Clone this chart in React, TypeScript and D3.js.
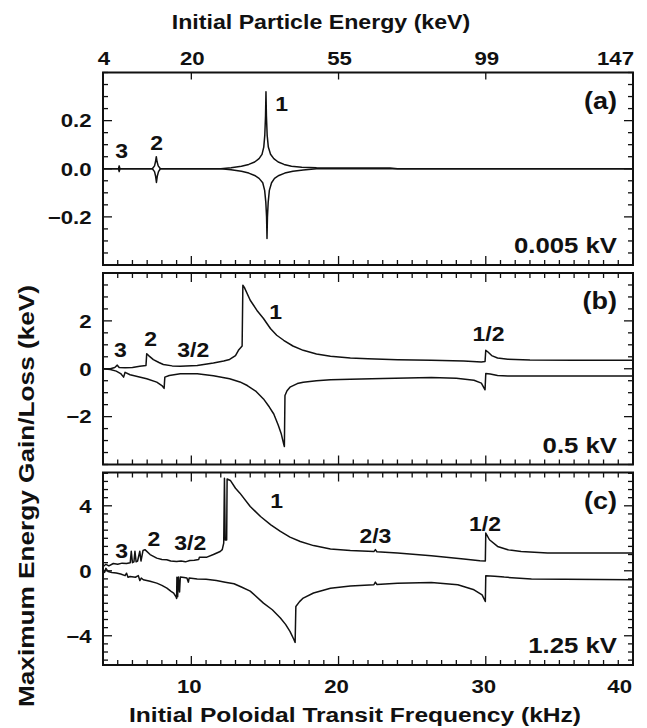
import React from "react";
import * as d3 from "d3";

type P = [number, number];

// ---------- data (frequency kHz, energy gain/loss keV) ----------
const aUpper: P[] = [
  [4, 0], [5.05, 0], [5.1, 0.012], [5.15, 0], [7.35, 0], [7.5, 0.012], [7.57, 0.03], [7.62, 0.05],
  [7.67, 0.03], [7.75, 0.012], [7.9, 0], [12.0, 0], [12.7, 0.004], [13.4, 0.01], [13.9, 0.018],
  [14.3, 0.028], [14.6, 0.042], [14.8, 0.06], [14.92, 0.09], [14.99, 0.14], [15.04, 0.22],
  [15.07, 0.32], [15.1, 0.22], [15.15, 0.14], [15.23, 0.09], [15.38, 0.06], [15.6, 0.042],
  [15.9, 0.028], [16.3, 0.018], [16.8, 0.01], [17.5, 0.006], [18.5, 0.004], [23.5, 0.003], [24, 0], [40, 0],
];
const aLower: P[] = [
  [4, 0], [5.05, 0], [5.1, -0.012], [5.15, 0], [7.35, 0], [7.5, -0.012], [7.57, -0.03], [7.63, -0.057],
  [7.69, -0.03], [7.77, -0.012], [7.9, 0], [12.0, 0], [12.7, -0.004], [13.4, -0.01], [13.9, -0.018],
  [14.3, -0.028], [14.6, -0.04], [14.85, -0.058], [14.98, -0.09], [15.06, -0.14], [15.11, -0.2],
  [15.14, -0.29], [15.17, -0.2], [15.22, -0.14], [15.3, -0.09], [15.45, -0.058], [15.65, -0.04],
  [15.95, -0.028], [16.35, -0.018], [16.9, -0.01], [17.6, -0.005], [18.5, 0], [40, 0],
];
const bUpper: P[] = [
  [4, 0], [4.5, 0.0], [4.8, 0.05], [4.97, 0.15], [5.1, 0.05], [5.5, 0.04], [6.0, 0.05], [6.5, 0.1],
  [6.92, 0.14], [6.97, 0.63], [7.1, 0.55], [7.42, 0.38], [7.8, 0.26], [8.1, 0.18], [8.7, 0.12],
  [9.25, 0.1], [10.4, 0.14], [11.5, 0.24], [12.2, 0.32], [12.6, 0.39], [13.0, 0.55], [13.2, 0.77],
  [13.45, 0.95], [13.5, 3.49], [13.6, 3.4], [14.0, 2.86], [14.5, 2.4], [14.9, 2.1], [15.37, 1.68],
  [15.8, 1.4], [16.27, 1.19], [16.9, 0.95], [17.6, 0.77], [18.5, 0.62], [19.45, 0.52], [20.8, 0.45],
  [22, 0.42], [24, 0.38], [26.3, 0.35], [28.5, 0.32], [29.7, 0.28], [29.95, 0.3], [30.0, 0.77],
  [30.15, 0.7], [30.4, 0.55], [30.8, 0.45], [31.5, 0.4], [33, 0.37], [36, 0.36], [40, 0.36],
];
const bLower: P[] = [
  [4, 0], [4.5, -0.03], [4.9, -0.1], [5.2, -0.2], [5.4, -0.35], [5.5, -0.15], [5.84, -0.25],
  [6.4, -0.33], [6.97, -0.42], [7.65, -0.56], [8.0, -0.7], [8.15, -0.82], [8.2, -0.35], [8.5, -0.28],
  [9.25, -0.21], [10.4, -0.21], [11.5, -0.29], [12.6, -0.42], [13.3, -0.55], [13.8, -0.7],
  [14.4, -0.95], [14.9, -1.26], [15.3, -1.6], [15.6, -1.89], [15.9, -2.35], [16.1, -2.7],
  [16.27, -3.14], [16.32, -3.25], [16.36, -1.12], [16.5, -0.92], [16.7, -0.77], [17.2, -0.62],
  [17.6, -0.56], [18.5, -0.5], [19.45, -0.46], [20.8, -0.44], [23, -0.41], [26.3, -0.37],
  [28, -0.4], [29.2, -0.48], [29.7, -0.6], [29.95, -0.88], [30.0, -0.2], [30.3, -0.22],
  [30.8, -0.28], [31.5, -0.3], [40, -0.3],
];
const cUpper: P[] = [
  [4, 0.25], [4.2, 0.4], [4.4, 0.3], [4.7, 0.45], [5.0, 0.4], [5.3, 0.47], [5.6, 0.45], [5.85, 0.5],
  [5.92, 1.2], [6.0, 0.5], [6.1, 0.55], [6.17, 1.2], [6.25, 0.55], [6.35, 0.6], [6.5, 1.2],
  [6.58, 0.6], [6.72, 1.25], [6.85, 1.3], [7.2, 1.0], [7.65, 0.78], [8.0, 0.7], [8.33, 0.68],
  [8.6, 0.6], [9.0, 0.57], [9.3, 0.6], [9.6, 0.55], [9.9, 0.63], [10.2, 0.65], [10.5, 0.7],
  [10.55, 0.84], [11.06, 0.84], [11.5, 1.0], [11.96, 1.19], [12.1, 1.3], [12.2, 1.7], [12.25, 5.7],
  [12.3, 1.9], [12.4, 1.9], [12.43, 5.65], [12.65, 5.56], [13.0, 5.08], [13.3, 4.78], [14.0, 3.96],
  [14.7, 3.34], [15.4, 2.83], [16.05, 2.42], [16.7, 2.07], [17.4, 1.8], [18.3, 1.55], [19.45, 1.34],
  [20.8, 1.25], [22.4, 1.18], [22.5, 1.3], [22.6, 1.17], [24.0, 1.09], [26.3, 0.92], [28.5, 0.72],
  [29.6, 0.62], [29.97, 0.6], [30.0, 2.32], [30.25, 1.91], [30.8, 1.5], [31.5, 1.29], [32.4, 1.19],
  [34.2, 1.1], [40, 1.09],
];
const cLower: P[] = [
  [4, 0.1], [4.1, -0.1], [4.2, 0.15], [4.35, -0.05], [4.6, -0.1], [4.9, -0.14], [5.2, -0.2],
  [5.5, -0.3], [5.6, -0.15], [5.7, -0.4], [5.84, -0.35], [6.2, -0.4], [6.4, -0.3], [6.5, -0.6],
  [6.6, -0.45], [6.74, -0.55], [7.2, -0.65], [7.65, -0.76], [8.0, -0.9], [8.34, -1.07], [8.6, -1.25],
  [8.8, -1.37], [8.97, -1.62], [9.0, -1.7], [9.02, -0.4], [9.07, -1.6], [9.12, -0.38], [9.2, -1.3],
  [9.25, -0.39], [9.5, -0.42], [9.7, -0.45], [9.8, -0.7], [9.85, -0.45], [10.4, -0.5], [11.0, -0.52],
  [11.7, -0.6], [12.3, -0.7], [12.9, -0.8], [13.4, -1.0], [14.0, -1.25], [14.9, -1.99], [15.5, -2.4],
  [16.05, -2.91], [16.4, -3.3], [16.7, -3.73], [16.95, -4.2], [17.05, -4.41], [17.1, -2.2],
  [17.35, -1.9], [17.6, -1.68], [18.3, -1.37], [19.45, -1.07], [20.8, -0.93], [22.4, -0.86],
  [22.5, -0.7], [22.6, -0.84], [24.0, -0.76], [26.3, -0.72], [28.1, -0.86], [29.2, -1.17],
  [29.75, -1.48], [29.97, -1.89], [30.0, -0.31], [30.6, -0.33], [31.25, -0.39], [33.1, -0.51], [40, -0.55],
];

// resonance annotations: [frequency, value, text]
const aRes: [number, number, string][] = [[5.27, 0.045, "3"], [7.65, 0.076, "2"], [16.14, 0.238, "1"]];
const bRes: [number, number, string][] = [[5.18, 0.49, "3"], [7.24, 0.93, "2"], [10.13, 0.49, "3/2"], [15.73, 2.08, "1"], [30.18, 1.14, "1/2"]];
const cRes: [number, number, string][] = [[5.27, 0.79, "3"], [7.46, 1.5, "2"], [9.93, 1.26, "3/2"], [15.8, 3.88, "1"], [22.5, 1.72, "2/3"], [29.95, 2.43, "1/2"]];

// tick labels
const topTickFreqs = [4, 10, 20, 30, 40];
const topTickLabels = ["4", "20", "55", "99", "147"];
const bottomTickFreqs = [10, 20, 30, 40];
const bottomTickLabels = ["10", "20", "30", "40"];
const aTickVals = [0.2, 0, -0.2];
const aTickLabels = ["0.2", "0.0", "\u22120.2"];
const bTickVals = [2, 0, -2];
const bTickLabels = ["2", "0", "\u22122"];
const cTickVals = [4, 0, -4];
const cTickLabels = ["4", "0", "\u22124"];

const panelTags = ["(a)", "(b)", "(c)"];
const panelVolts = ["0.005 kV", "0.5 kV", "1.25 kV"];

// ---------- layout ----------
const W = 647, H = 728;
const L = 103, R = 633;
const FONT = "'Liberation Sans', Arial, Helvetica, sans-serif";
const INK = "#111";

const x = d3.scaleLinear().domain([4, 40]).range([L, R]);

const panels = [
  { top: 72.5, bottom: 265, domain: [-0.4, 0.4], minor: 0.05, tv: aTickVals, tl: aTickLabels, up: aUpper, lo: aLower, res: aRes, topMinor: false },
  { top: 273, bottom: 464.5, domain: [-4, 4], minor: 0.5, tv: bTickVals, tl: bTickLabels, up: bUpper, lo: bLower, res: bRes, topMinor: true },
  { top: 472.5, bottom: 665, domain: [-5.8, 6.05], minor: 0.5, tv: cTickVals, tl: cTickLabels, up: cUpper, lo: cLower, res: cRes, topMinor: true },
];

function T(props: { x: number; y: number; size: number; anchor?: string; sx?: number; rotate?: number; children: React.ReactNode }) {
  const { x: tx, y: ty, size, anchor = "middle", sx = 1.17, rotate = 0, children } = props;
  const tr = `translate(${tx},${ty})${rotate ? ` rotate(${rotate})` : ""} scale(${sx},1)`;
  return (
    <text transform={tr} fontSize={size} fontWeight="bold" fontFamily={FONT} textAnchor={anchor as any} fill={INK}>
      {children}
    </text>
  );
}

function Panel({ p, i }: { p: typeof panels[number]; i: number }) {
  const y = d3.scaleLinear().domain(p.domain).range([p.bottom, p.top]);
  const line = d3.line<P>().x((d) => x(d[0])).y((d) => y(d[1]));
  const minorX = d3.range(5, 40).filter((v) => v % 10 !== 0);
  const majorX = [10, 20, 30];
  const lo = Math.ceil(p.domain[0] / p.minor - 1e-6);
  const hi = Math.floor(p.domain[1] / p.minor + 1e-6);
  const minorY = d3.range(lo, hi + 1).map((k) => +(k * p.minor).toFixed(4)).filter((v) => !p.tv.some((t) => Math.abs(t - v) < 1e-6));
  const clipId = `clip${i}`;
  const ticks: React.ReactNode[] = [];
  const MJ = 9, MN = 5;
  minorX.forEach((v) => {
    ticks.push(<line key={`bx${v}`} x1={x(v)} x2={x(v)} y1={p.bottom} y2={p.bottom - MN} />);
    if (p.topMinor) ticks.push(<line key={`tx${v}`} x1={x(v)} x2={x(v)} y1={p.top} y2={p.top + MN} />);
  });
  majorX.forEach((v) => {
    ticks.push(<line key={`bX${v}`} x1={x(v)} x2={x(v)} y1={p.bottom} y2={p.bottom - MJ} />);
    ticks.push(<line key={`tX${v}`} x1={x(v)} x2={x(v)} y1={p.top} y2={p.top + (p.topMinor ? MJ : 7)} />);
  });
  minorY.forEach((v) => {
    ticks.push(<line key={`ly${v}`} x1={L} x2={L + MN} y1={y(v)} y2={y(v)} />);
    ticks.push(<line key={`ry${v}`} x1={R} x2={R - MN} y1={y(v)} y2={y(v)} />);
  });
  p.tv.forEach((v) => {
    ticks.push(<line key={`lY${v}`} x1={L} x2={L + MJ} y1={y(v)} y2={y(v)} />);
    ticks.push(<line key={`rY${v}`} x1={R} x2={R - MJ} y1={y(v)} y2={y(v)} />);
  });
  return (
    <g>
      <defs>
        <clipPath id={clipId}>
          <rect x={L} y={p.top} width={R - L} height={p.bottom - p.top} />
        </clipPath>
      </defs>
      <g clipPath={`url(#${clipId})`} fill="none" stroke={INK} strokeWidth={1.5} strokeLinejoin="round">
        <path d={line(p.up) || ""} />
        <path d={line(p.lo) || ""} />
      </g>
      <g stroke={INK} strokeWidth={1.3}>{ticks}</g>
      <rect x={L} y={p.top} width={R - L} height={p.bottom - p.top} fill="none" stroke={INK} strokeWidth={2} />
      {p.tv.map((v, k) => (
        <T key={`tl${k}`} x={91.5} y={y(v) + 6.8} size={19} anchor="end">{p.tl[k]}</T>
      ))}
      {p.res.map((r, k) => (
        <T key={`rs${k}`} x={x(r[0])} y={y(r[1])} size={20} sx={1.15}>{r[2]}</T>
      ))}
      <T x={617} y={p.top + 36} size={23.5} anchor="end" sx={1.15}>{panelTags[i]}</T>
      <T x={617} y={p.bottom - 12} size={23} anchor="end" sx={1.12}>{panelVolts[i]}</T>
    </g>
  );
}

export default function App() {
  return (
    <svg width={W} height={H} viewBox={`0 0 ${W} ${H}`} style={{ position: "absolute", left: 0, top: 0, background: "#fff" }}>
      <rect x={0} y={0} width={W} height={H} fill="#fff" />
      {panels.map((p, i) => (
        <Panel key={i} p={p} i={i} />
      ))}
      {topTickFreqs.map((f, k) => (
        <T key={`tt${k}`} x={k === topTickFreqs.length - 1 ? R + 1 : x(f) + 1} y={65} size={19} anchor={k === topTickFreqs.length - 1 ? "end" : "middle"}>
          {topTickLabels[k]}
        </T>
      ))}
      {bottomTickFreqs.map((f, k) => (
        <T key={`bt${k}`} x={k === bottomTickFreqs.length - 1 ? R - 1 : x(f) - 2} y={692.5} size={19} anchor={k === bottomTickFreqs.length - 1 ? "end" : "middle"}>
          {bottomTickLabels[k]}
        </T>
      ))}
      <T x={321} y={29} size={20.5} sx={1.13}>Initial Particle Energy (keV)</T>
      <T x={(L + R) / 2 - 13} y={722} size={20.5} sx={1.2}>Initial Poloidal Transit Frequency (kHz)</T>
      <T x={34} y={496} size={22.4} sx={1.17} rotate={-90}>Maximum Energy Gain/Loss (keV)</T>
    </svg>
  );
}
